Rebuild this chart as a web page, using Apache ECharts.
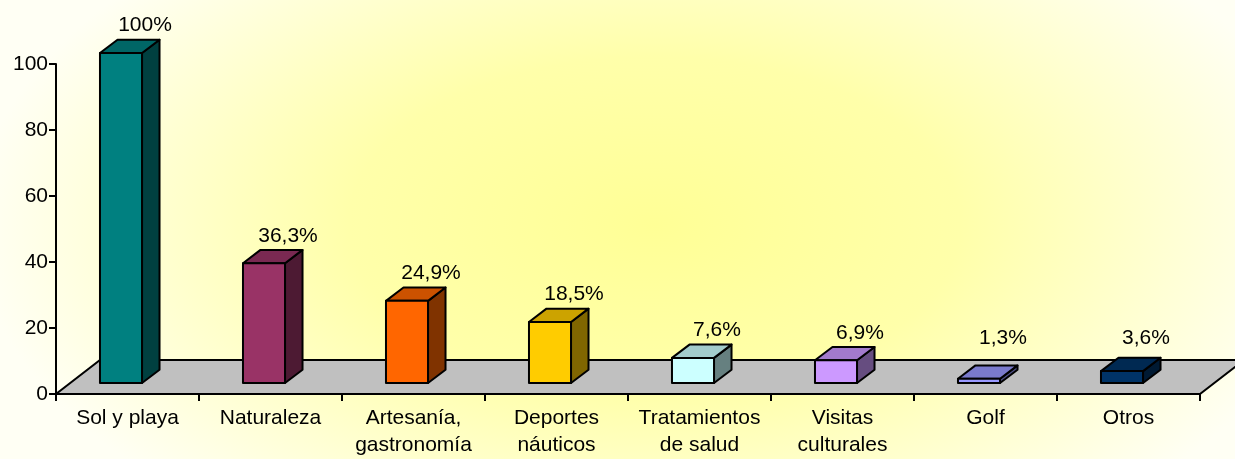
<!DOCTYPE html>
<html>
<head>
<meta charset="utf-8">
<script src="https://cdn.jsdelivr.net/npm/echarts@6/dist/echarts.min.js"></script>
<style>
  html, body { margin: 0; padding: 0; background: #fff; }
  #chart { width: 1235px; height: 459px; }
</style>
</head>
<body>
<div id="chart"></div>
<script>
var categories = ['Sol y playa', 'Naturaleza', 'Artesanía,\ngastronomía', 'Deportes\nnáuticos',
  'Tratamientos\nde salud', 'Visitas\nculturales', 'Golf', 'Otros'];
var values = [100, 36.3, 24.9, 18.5, 7.6, 6.9, 1.3, 3.6];
var yTicks = [0, 20, 40, 60, 80, 100];

// front / top / side colours of each box
var faceColors = [
  ['#008080', '#006666', '#004040'],
  ['#993366', '#7a2952', '#4d1a33'],
  ['#ff6600', '#cc5200', '#803300'],
  ['#ffcc00', '#cca300', '#806600'],
  ['#ccffff', '#a3cccc', '#668080'],
  ['#cc99ff', '#a37acc', '#664d80'],
  ['#9999ff', '#7a7acc', '#4d4d80'],
  ['#003366', '#002952', '#001a33']
];

var FONT = '"Liberation Sans", Arial, sans-serif';
var DX = 17.5, DY = -13.3;   // box depth
var FDX = 44, FDY = -34;     // floor depth

var chart = echarts.init(document.getElementById('chart'));

function fmt(v) {
  return String(v).replace('.', ',') + '%';
}

function renderFloor(params, api) {
  var cs = params.coordSys;
  var b = cs.y + cs.height;
  return {
    type: 'polygon',
    shape: { points: [[cs.x, b], [cs.x + cs.width, b], [cs.x + cs.width + FDX, b + FDY], [cs.x + FDX, b + FDY]] },
    style: { fill: '#c0c0c0', stroke: '#000', lineWidth: 2 }
  };
}

function renderBox(params, api) {
  var i = api.value(0);
  var v = api.value(1);
  var base = api.coord([i, 0]);
  var top = api.coord([i, v]);
  var w = api.size([1, 0])[0] * 0.294;
  var cx = base[0] - 6.5;
  var x0 = cx - w / 2, x1 = cx + w / 2;
  var yb = base[1] - 11, yt = top[1] - 11;
  var c = faceColors[params.dataIndex];
  var line = { stroke: '#000', lineWidth: 2, lineJoin: 'round' };
  return {
    type: 'group',
    children: [
      { type: 'polygon', shape: { points: [[x1, yb], [x1 + DX, yb + DY], [x1 + DX, yt + DY], [x1, yt]] },
        style: Object.assign({ fill: c[2] }, line) },
      { type: 'polygon', shape: { points: [[x0, yt], [x0 + DX, yt + DY], [x1 + DX, yt + DY], [x1, yt]] },
        style: Object.assign({ fill: c[1] }, line) },
      { type: 'rect', shape: { x: x0, y: yt, width: w, height: yb - yt },
        style: Object.assign({ fill: c[0] }, line) },
      { type: 'text', style: {
          text: fmt(v), x: cx + 24, y: Math.min(yt + DY - 14, 338),
          align: 'center', verticalAlign: 'middle',
          fontSize: 21, fontFamily: FONT, fill: '#000'
        } }
    ]
  };
}

var bgH = 1235 * 0.55;
var option = {
  animation: false,
  backgroundColor: '#fffff6',
  textStyle: { fontFamily: FONT },
  graphic: [{
    type: 'rect', z: -100, silent: true,
    shape: { x: 0, y: 0, width: 1235, height: 1235 },
    scaleY: 0.55,
    style: {
      fill: new echarts.graphic.RadialGradient(0.53, 225 / bgH, 0.55, [
        { offset: 0, color: '#ffff96' },
        { offset: 0.45, color: '#ffffaa' },
        { offset: 1, color: '#fffff4' }
      ])
    }
  }],
  grid: { left: 56, right: 35, top: 64, bottom: 63 },
  xAxis: {
    type: 'category',
    data: categories,
    boundaryGap: true,
    axisLine: { lineStyle: { color: '#000', width: 2 } },
    axisTick: { show: true, length: 7, lineStyle: { color: '#000', width: 2 } },
    axisLabel: { color: '#000', fontSize: 21, lineHeight: 27, margin: 11, interval: 0, fontFamily: FONT }
  },
  yAxis: {
    type: 'value',
    min: yTicks[0],
    max: yTicks[yTicks.length - 1],
    interval: 20,
    splitLine: { show: false },
    axisLine: { show: true, lineStyle: { color: '#000', width: 2 } },
    axisTick: { show: true, length: 7, lineStyle: { color: '#000', width: 2 } },
    axisLabel: { color: '#000', fontSize: 21, margin: 8, fontFamily: FONT }
  },
  series: [
    {
      type: 'custom',
      z: 1,
      silent: true,
      renderItem: renderFloor,
      data: [[0, 0]]
    },
    {
      type: 'custom',
      z: 3,
      renderItem: renderBox,
      encode: { x: 0, y: 1 },
      data: values.map(function (v, i) { return [i, v]; })
    }
  ]
};
chart.setOption(option);
</script>
</body>
</html>
